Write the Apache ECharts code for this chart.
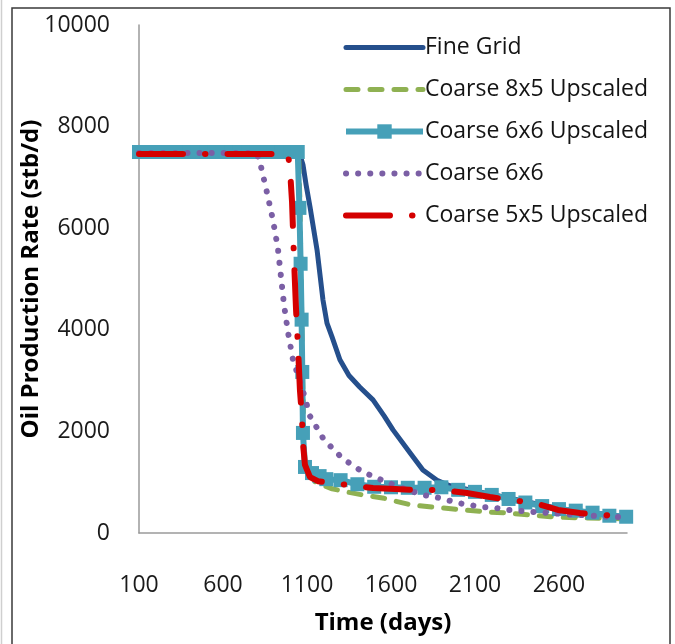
<!DOCTYPE html>
<html>
<head>
<meta charset="utf-8">
<script src="https://cdn.jsdelivr.net/npm/echarts@6/dist/echarts.min.js"></script>
<style>
html,body{margin:0;padding:0;background:#fff;}
#chart{width:675px;height:644px;}
</style>
</head>
<body>
<div id="chart"></div>
<script>
// ---- data ----
const seriesNames = ['Fine Grid', 'Coarse 8x5 Upscaled', 'Coarse 6x6 Upscaled', 'Coarse 6x6', 'Coarse 5x5 Upscaled'];
const xTickLabels = [100, 600, 1100, 1600, 2100, 2600];
const yTickLabels = [0, 2000, 4000, 6000, 8000, 10000];

const fineT = [100, 1046, 1060, 1076, 1095, 1118, 1160, 1195, 1219, 1249, 1296, 1350, 1415, 1493, 1560, 1612, 1713, 1790, 1874, 1950, 2050, 2200, 2400, 2600, 2800, 3000];
const fineV = [7500, 7500, 7420, 7250, 6850, 6420, 5570, 4590, 4130, 3860, 3410, 3100, 2870, 2620, 2300, 2030, 1580, 1240, 1040, 930, 860, 760, 620, 480, 400, 320];

const c85T = [100, 1050, 1058, 1065, 1072, 1080, 1088, 1100, 1150, 1250, 1350, 1430, 1550, 1710, 1850, 2030, 2170, 2310, 2430, 2550, 2700, 2850, 3000];
const c85V = [7500, 7500, 6500, 5000, 3500, 2000, 1400, 1250, 1000, 870, 800, 750, 690, 560, 510, 455, 415, 390, 355, 320, 300, 290, 280];

const c66uT = [100, 150, 200, 250, 300, 350, 400, 450, 500, 550, 600, 650, 700, 750, 800, 850, 900, 950, 1000, 1045, 1055, 1062, 1068, 1072, 1076, 1088, 1130, 1175, 1215, 1300, 1400, 1500, 1600, 1700, 1800, 1900, 2000, 2100, 2200, 2300, 2400, 2500, 2600, 2700, 2800, 2900, 3000];
const c66uV = [7500, 7500, 7500, 7500, 7500, 7500, 7500, 7500, 7500, 7500, 7500, 7500, 7500, 7500, 7500, 7500, 7500, 7500, 7500, 7500, 6400, 5300, 4200, 3170, 1970, 1300, 1180, 1120, 1060, 1040, 960, 910, 900, 890, 890, 900, 850, 810, 750, 670, 600, 530, 470, 440, 400, 340, 320];

const c66T = [100, 800, 820, 862, 898, 927, 945, 963, 987, 1017, 1070, 1118, 1195, 1250, 1308, 1368, 1433, 1505, 1576, 1680, 1790, 1862, 1933, 2000, 2070, 2148, 2231, 2300, 2445, 2530, 2700, 2890, 3000];
const c66V = [7480, 7480, 7300, 6700, 6150, 5600, 5050, 4500, 3950, 3400, 2870, 2300, 1870, 1670, 1480, 1340, 1200, 1100, 1000, 870, 750, 710, 650, 590, 550, 510, 490, 455, 415, 395, 360, 320, 310];

const c55uT = [100, 987, 999, 1011, 1023, 1035, 1046, 1058, 1070, 1076, 1088, 1118, 1165, 1207, 1344, 1493, 1624, 1755, 1904, 2052, 2189, 2308, 2457, 2594, 2725, 2862, 3005];
const c55uV = [7460, 7460, 7150, 6520, 5370, 4390, 3700, 2815, 2280, 1770, 1340, 1100, 1020, 1000, 945, 886, 866, 846, 846, 787, 709, 650, 591, 453, 394, 354, 315];

// ---- build ----
function pairs(t, v) { return t.map((x, i) => [x, v[i]]); }
const FONT = '"Open Sans", "Noto Sans", sans-serif';
const COLORS = ['#254f8c', '#8fb152', '#46a0b8', '#7b5fa5', '#d40000'];
const STYLES = [
  {width: 5, type: 'solid', cap: 'round'},
  {width: 5, type: [12, 12], cap: 'round'},
  {width: 6, type: 'solid', cap: 'butt'},
  {width: 6, type: [0.1, 12], cap: 'round'},
  {width: 6, type: [44, 22, 0.5, 22], cap: 'round'}
];
const legendData = seriesNames.map((n, i) => ({
  name: n,
  itemStyle: i === 2 ? {color: COLORS[i], opacity: 1} : {opacity: 0},
  lineStyle: Object.assign({color: COLORS[i]}, STYLES[i])
}));

const chart = echarts.init(document.getElementById('chart'), null, {renderer: 'canvas'});
chart.setOption({
  backgroundColor: '#ffffff',
  animation: false,
  grid: {left: 139, right: 48, top: 25, bottom: 111, containLabel: false},
  graphic: [
    {type: 'rect', shape: {x: 12, y: 8, width: 658, height: 660}, style: {fill: 'none', stroke: '#3a3a3a', lineWidth: 1.5}, z: -1},
    {type: 'line', shape: {x1: 1.5, y1: 0, x2: 1.5, y2: 644}, style: {stroke: '#cfcfcf', lineWidth: 1.5}, z: -1}
  ],
  legend: {
    orient: 'vertical',
    left: 338,
    top: 31,
    itemWidth: 77,
    itemHeight: 18,
    itemGap: 19,
    data: legendData,
    textStyle: {fontFamily: FONT, fontSize: 23, color: '#141414', padding: [0, 0, 0, -3]}
  },
  xAxis: {
    type: 'value',
    min: 100,
    max: 3005,
    name: 'Time (days)',
    nameLocation: 'middle',
    nameGap: 78,
    nameMoveOverlap: false,
    nameTextStyle: {fontFamily: FONT, fontSize: 24, fontWeight: 'bold', color: '#000'},
    axisLine: {show: true, lineStyle: {color: '#9a9a9a', width: 1.5}},
    axisTick: {show: false},
    splitLine: {show: false},
    axisLabel: {
      customValues: xTickLabels,
      formatter: v => String(v),
      margin: 41,
      fontFamily: FONT, fontSize: 23, color: '#1a1a1a'
    }
  },
  yAxis: {
    type: 'value',
    min: 0,
    max: 10000,
    interval: 2000,
    name: 'Oil Production Rate (stb/d)',
    nameLocation: 'middle',
    nameGap: 96,
    nameMoveOverlap: false,
    nameTextStyle: {fontFamily: FONT, fontSize: 24, fontWeight: 'bold', color: '#000'},
    axisLine: {show: true, lineStyle: {color: '#9a9a9a', width: 1.5}},
    axisTick: {show: false},
    splitLine: {show: false},
    axisLabel: {
      customValues: yTickLabels,
      formatter: v => String(v),
      margin: 29,
      fontFamily: FONT, fontSize: 23, color: '#1a1a1a'
    }
  },
  series: [
    {name: seriesNames[0], type: 'line', z: 1, data: pairs(fineT, fineV), symbol: 'none',
     lineStyle: Object.assign({color: COLORS[0], join: 'round'}, STYLES[0]), itemStyle: {color: COLORS[0]}},
    {name: seriesNames[1], type: 'line', z: 2, data: pairs(c85T, c85V), symbol: 'none',
     lineStyle: Object.assign({color: COLORS[1]}, STYLES[1]), itemStyle: {color: COLORS[1]}},
    {name: seriesNames[2], type: 'line', z: 3, data: pairs(c66uT, c66uV), symbol: 'rect', symbolSize: 14,
     lineStyle: Object.assign({color: COLORS[2], join: 'round'}, STYLES[2]), itemStyle: {color: COLORS[2]}},
    {name: seriesNames[3], type: 'line', z: 4, data: pairs(c66T, c66V), symbol: 'none',
     lineStyle: Object.assign({color: COLORS[3]}, STYLES[3]), itemStyle: {color: COLORS[3]}},
    {name: seriesNames[4], type: 'line', z: 5, data: pairs(c55uT, c55uV), symbol: 'none',
     lineStyle: Object.assign({color: COLORS[4]}, STYLES[4]), itemStyle: {color: COLORS[4]}}
  ]
});
</script>
</body>
</html>
